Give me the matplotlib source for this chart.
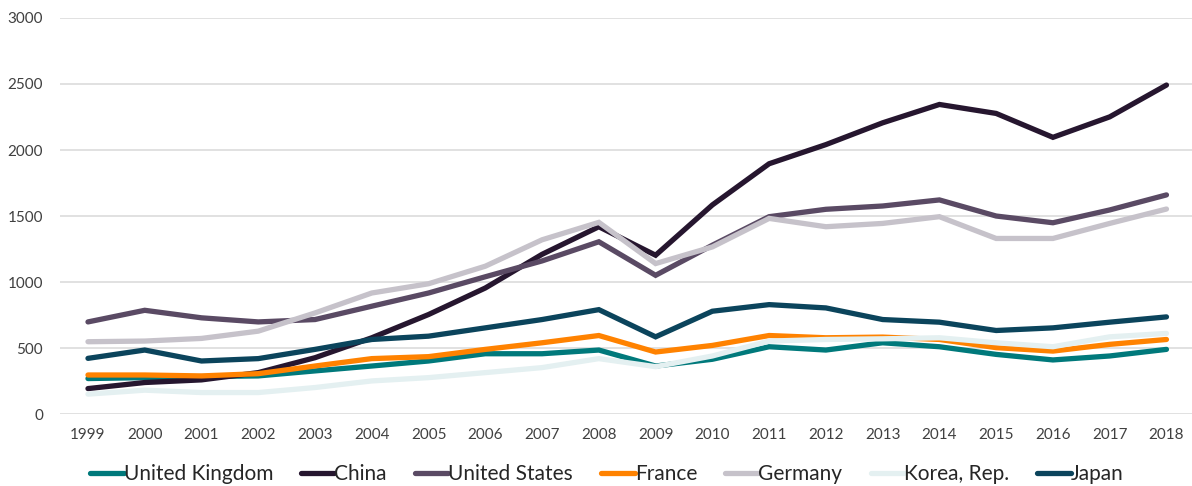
import matplotlib
matplotlib.use("Agg")
import matplotlib.pyplot as plt

years = list(range(1999, 2019))
uk = [269, 276, 284, 289, 327, 364, 402, 457, 457, 485, 364, 415, 510, 485, 540, 510, 452, 410, 440, 490]
china = [193, 239, 259, 314, 427, 578, 754, 955, 1210, 1419, 1203, 1584, 1896, 2041, 2206, 2345, 2277, 2096, 2251, 2492]
us = [698, 786, 729, 698, 716, 817, 917, 1040, 1160, 1305, 1051, 1279, 1495, 1551, 1576, 1622, 1500, 1449, 1546, 1660]
france = [296, 296, 289, 306, 364, 420, 435, 490, 540, 595, 470, 520, 595, 578, 583, 565, 503, 477, 528, 565]
germany = [548, 553, 573, 628, 766, 917, 987, 1120, 1320, 1452, 1140, 1266, 1482, 1419, 1444, 1495, 1330, 1330, 1444, 1553]
korea = [151, 181, 163, 163, 201, 251, 276, 314, 352, 420, 359, 440, 553, 565, 570, 578, 540, 510, 585, 611]
japan = [422, 485, 402, 420, 490, 565, 590, 653, 716, 791, 585, 779, 829, 804, 716, 696, 633, 653, 696, 736]

series = [
    ("United Kingdom", uk, "#00797B"),
    ("China", china, "#26162F"),
    ("United States", us, "#5A4A64"),
    ("France", france, "#FF8200"),
    ("Germany", germany, "#C6C2CA"),
    ("Korea, Rep.", korea, "#E4F0F1"),
    ("Japan", japan, "#0B445C"),
]

plt.rcParams['font.family'] = ['Lato', 'DejaVu Sans']

fig = plt.figure(figsize=(11.92, 4.86), dpi=100)
ax = fig.add_axes([0.05, 0.148, 0.95, 0.815])

for name, vals, col in series:
    ax.plot(years, vals, color=col, lw=3.8, label=name, solid_capstyle='round',
            solid_joinstyle='miter')

ax.set_ylim(0, 3000)
ax.set_xlim(1998.5, 2018.45)
ax.set_yticks(range(0, 3001, 500))
ax.set_xticks(years)
ax.set_xticklabels([str(y) for y in years])
ax.yaxis.grid(True, color="#D9D9D9", lw=1.1)
ax.set_axisbelow(True)
for s in ax.spines.values():
    s.set_visible(False)
ax.tick_params(axis='both', length=0, labelsize=11, colors='#404040')
ax.tick_params(axis='y', pad=12)
ax.tick_params(axis='x', pad=10)

leg = fig.legend(loc='center', bbox_to_anchor=(0.509, 0.025), ncol=7, frameon=False,
                 fontsize=15, handlelength=1.6, handletextpad=0.0, columnspacing=1.35)
for t in leg.get_texts():
    t.set_color('#262626')

fig.savefig("out.png", dpi=100)
